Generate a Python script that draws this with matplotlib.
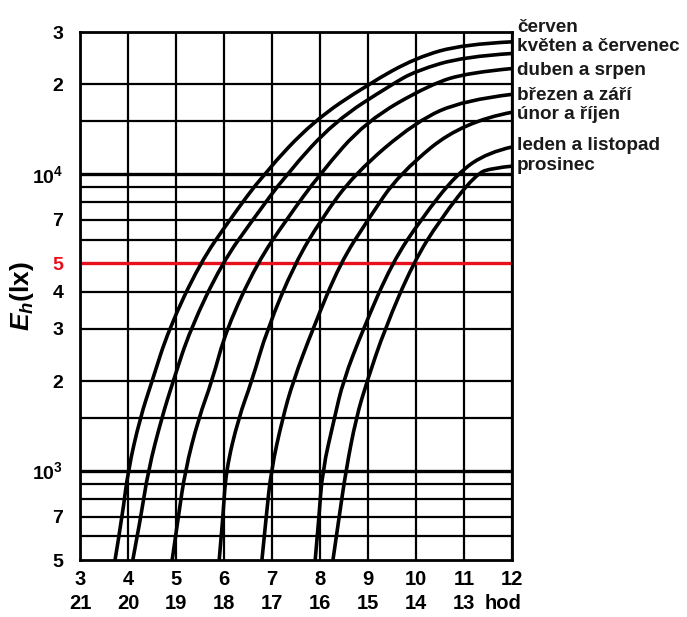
import numpy as np
import matplotlib
matplotlib.use("Agg")
import matplotlib.pyplot as plt
from matplotlib.path import Path
from matplotlib.patches import PathPatch
from matplotlib.ticker import NullLocator
from matplotlib.transforms import blended_transform_factory

# ======================================
# Data
# ======================================

hours = [3, 4, 5, 6, 7, 8, 9, 10, 11, 12]
hours_pm = ["21", "20", "19", "18", "17", "16", "15", "14", "13", "hod"]

cerven_h = [3.73, 3.88, 4.0, 4.25, 4.5, 4.85, 5.5, 6.12, 6.83, 7.85, 9.0, 10.0, 11.0, 12.0]
cerven_lx = [500, 700, 1000, 1500, 2000, 3000, 5000, 7000, 10000, 15000, 20000, 24600, 27300, 27800]

kveten_h = [4.1, 4.27, 4.42, 4.7, 4.94, 5.3, 5.96, 6.6, 7.31, 8.3, 9.5, 10.0, 11.0, 12.0]
kveten_lx = [500, 700, 1000, 1500, 2000, 3000, 5000, 7000, 10000, 15000, 20000, 22200, 24800, 25400]

duben_h = [4.92, 5.05, 5.19, 5.47, 5.75, 6.05, 6.69, 7.3, 8.0, 8.95, 10.3, 11.1, 12.0]
duben_lx = [500, 700, 1000, 1500, 2000, 3000, 5000, 7000, 10000, 15000, 20000, 21900, 22600]

brezen_h = [5.9, 5.98, 6.04, 6.3, 6.58, 6.9, 7.48, 8.02, 8.72, 10.0, 11.0, 12.0]
brezen_lx = [500, 700, 1000, 1500, 2000, 3000, 5000, 7000, 10000, 15000, 17700, 18500]

unor_h = [6.79, 6.88, 6.98, 7.22, 7.44, 7.85, 8.42, 9.0, 9.65, 10.98, 12.0]
unor_lx = [500, 700, 1000, 1500, 2000, 3000, 5000, 7000, 10000, 15000, 16100]

leden_h = [7.9, 7.98, 8.05, 8.3, 8.48, 8.9, 9.5, 10.1, 10.85, 11.5, 12.0]
leden_lx = [500, 700, 1000, 1500, 2000, 3000, 5000, 7000, 10000, 11800, 12300]

prosinec_h = [8.27, 8.4, 8.54, 8.75, 8.98, 9.35, 9.94, 10.5, 11.25, 11.6, 12.0]
prosinec_lx = [500, 700, 1000, 1500, 2000, 3000, 5000, 7000, 10000, 10450, 10600]

month_labels = ["červen", "květen a červenec", "duben a srpen", "březen a září",
                "únor a říjen", "leden a listopad", "prosinec"]
label_lx = [31000, 26800, 22200, 18300, 15800, 12400, 10640]

grid_lx = [600, 700, 800, 900, 1500, 2000, 3000, 4000, 6000, 7000, 8000, 9000,
           15000, 20000]
decade_lx = [1000, 10000]
red_lx = 5000

ytick_vals = [500, 700, 1000, 2000, 3000, 4000, 5000, 7000, 10000, 20000, 30000]
ytick_labels = ["5", "7", "$10^3$", "2", "3", "4", "5", "7", "$10^4$", "2", "3"]

# ======================================
# Style
# ======================================

plt.rcParams["font.family"] = ["Liberation Sans", "DejaVu Sans"]
plt.rcParams["font.weight"] = "bold"
plt.rcParams["mathtext.fontset"] = "custom"
plt.rcParams["mathtext.rm"] = "Liberation Sans:bold"
plt.rcParams["mathtext.it"] = "Liberation Sans:italic:bold"
plt.rcParams["mathtext.bf"] = "Liberation Sans:bold"

RED = "#e8101a"


def smooth_path(xs, ys):
    # quadratic B-spline through the read points (log midpoints in y)
    verts = [(xs[0], ys[0])]
    codes = [Path.MOVETO]
    for i in range(1, len(xs) - 1):
        mx = (xs[i] + xs[i + 1]) / 2
        my = np.sqrt(ys[i] * ys[i + 1])
        if i == len(xs) - 2:
            mx, my = xs[-1], ys[-1]
        verts += [(xs[i], ys[i]), (mx, my)]
        codes += [Path.CURVE3, Path.CURVE3]
    return Path(verts, codes)


fig = plt.figure(figsize=(6.87, 6.17), dpi=100)
ax = fig.add_axes([80 / 687, 1 - 560 / 617, 432 / 687, 528 / 617])

ax.set_yscale("log")
ax.set_xlim(3, 12)
ax.set_ylim(500, 30000)

# Grid
for h in hours:
    ax.axvline(h, color="black", lw=1.6, zorder=1)
for v in grid_lx:
    ax.axhline(v, color="black", lw=1.6, zorder=1)
for v in decade_lx:
    ax.axhline(v, color="black", lw=2.4, zorder=1)
ax.axhline(red_lx, color=RED, lw=2.4, zorder=2)

# Curves
curves = [
    (cerven_h, cerven_lx),
    (kveten_h, kveten_lx),
    (duben_h, duben_lx),
    (brezen_h, brezen_lx),
    (unor_h, unor_lx),
    (leden_h, leden_lx),
    (prosinec_h, prosinec_lx),
]
for xs, ys in curves:
    patch = PathPatch(smooth_path(xs, ys), facecolor="none", edgecolor="black",
                      lw=2.6, capstyle="butt", zorder=3)
    ax.add_patch(patch)

for sp in ax.spines.values():
    sp.set_linewidth(2)

# Ticks
ax.yaxis.set_minor_locator(NullLocator())
ax.set_yticks(ytick_vals)
ax.set_yticklabels(ytick_labels, fontsize=14, fontweight="bold")
for lab, v in zip(ax.get_yticklabels(), ytick_vals):
    if v == red_lx:
        lab.set_color(RED)
ax.tick_params(axis="y", length=0, pad=12)

ax.set_xticks(hours)
ax.set_xticklabels([str(h) for h in hours], fontsize=14.5, fontweight="bold")
ax.tick_params(axis="x", length=0, pad=7)

trans = blended_transform_factory(ax.transData, ax.transAxes)
for h, lab in zip(hours, hours_pm):
    xpos = h - 0.19 if lab == "hod" else h
    ax.text(xpos, -0.082, lab, transform=trans, ha="center", va="center",
            fontsize=14.5, fontweight="bold", clip_on=False)

# Month labels on the right
rtrans = blended_transform_factory(ax.transAxes, ax.transData)
for lab, v in zip(month_labels, label_lx):
    ax.text(1.012, v, lab, transform=rtrans, ha="left", va="center",
            fontsize=13.6, fontweight="bold", color="#1a1a1a", clip_on=False)

ax.set_ylabel("$E_h$(lx)", fontsize=19, fontweight="bold")
ax.yaxis.set_label_coords(-0.101, 0.5)

fig.savefig("out.png", dpi=100)
